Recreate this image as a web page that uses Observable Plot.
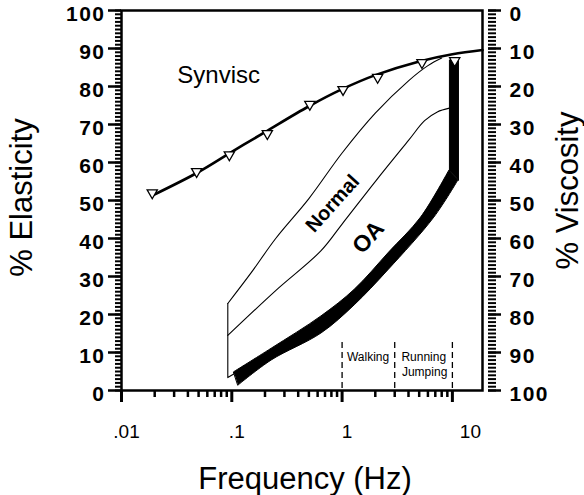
<!DOCTYPE html>
<html>
<head>
<meta charset="utf-8">
<script src="https://cdn.jsdelivr.net/npm/d3@7"></script>
<script src="https://cdn.jsdelivr.net/npm/@observablehq/plot@0.6"></script>
<style>
  html, body { margin: 0; padding: 0; background: white; }
  g[aria-label="y-axis tick label"] text { letter-spacing: 1.5px; }
</style>
</head>
<body>
<div id="chart"></div>
<script>
// Synvisc measured points (frequency Hz, % elasticity)
const synviscFreq = [0.019, 0.048, 0.095, 0.21, 0.51, 1.02, 2.1, 5.3, 10.5];
const synviscElasticity = [52, 57.6, 62, 67.6, 75.3, 79.2, 82.4, 86.3, 86.8];
// Synvisc fitted curve
const synviscFitFreq = [0.019, 0.05, 0.1, 0.2, 0.5, 1, 2, 5, 10, 18.75];
const synviscFitElasticity = [51.3, 57.5, 62.8, 68, 74.8, 79.3, 83, 86.6, 88.5, 89.6];
// Normal synovial fluid: upper boundary
const normalUpperFreq = [0.092, 0.15, 0.25, 0.5, 1, 2, 4, 6, 8];
const normalUpperElasticity = [22.9, 31, 40, 50.5, 62.5, 73, 81.5, 85.5, 87.5];
// Normal / OA dividing line
const normalLowerFreq = [0.092, 0.25, 0.645, 1, 2.04, 4, 5.6, 7.3, 9.4];
const normalLowerElasticity = [14.5, 26.3, 36.8, 43.8, 55.3, 65.8, 71, 73.3, 74.3];
// Low-frequency edge of the region
const normalBaseFreq = [0.092, 0.092, 0.108];
const normalBaseElasticity = [22.9, 3.4, 4.6];
// OA thick boundary: inner (upper-left) and outer (lower-right) edges of the curved part
const oaInnerFreq = [0.105, 0.23, 0.65, 1.3, 2.67, 5.2, 9.4];
const oaInnerElasticity = [4.8, 11, 19.5, 26.5, 36.3, 45.5, 57.9];
const oaOuterFreq = [0.115, 0.23, 0.65, 1.3, 2.62, 6.86, 11.35];
const oaOuterElasticity = [1.3, 7.9, 15, 22.4, 31.6, 45.5, 55.3];
// OA thick boundary: vertical part at high frequency
const oaWallFreq = [9.4, 9.4, 11.35, 11.35];
const oaWallElasticity = [57.9, 87, 87, 55.3];
// Activity ranges
const activityBounds = [1, 3, 10];
const activityLabels = ["Walking", "Running", "Jumping"];
const activityLabelFreq = [1.72, 5.5, 5.6];
const activityLabelElasticity = [8.7, 8.7, 4.7];
// Axis ticks
const xTicks = [0.01, 0.1, 1, 10];
const xTickLabels = [".01", ".1", "1", "10"];
const xMinorTicks = [2,3,4,5,6,7,8,9].flatMap(m => [0.01, 0.1, 1].map(d => m * d));
const yTicks = d3.range(0, 101, 10);
const yMinorTicks = d3.range(0, 101, 1);

const pts = (xs, ys) => xs.map((x, i) => ({x, y: ys[i]}));
const synvisc = pts(synviscFreq, synviscElasticity);
const synviscFit = pts(synviscFitFreq, synviscFitElasticity);
const normalUpper = pts(normalUpperFreq, normalUpperElasticity);
const normalLower = pts(normalLowerFreq, normalLowerElasticity);
const normalBase = pts(normalBaseFreq, normalBaseElasticity);
const oaBand = oaInnerFreq.map((f, i) => ({
  x1: oaOuterFreq[i], y1: oaOuterElasticity[i], x2: f, y2: oaInnerElasticity[i]
}));
const oaWall = pts(oaWallFreq, oaWallElasticity);
const activity = activityLabels.map((t, i) => ({t, x: activityLabelFreq[i], y: activityLabelElasticity[i]}));
const xLabel = d => xTickLabels[xTicks.indexOf(d)];

const downTriangle = {
  draw(ctx, size) {
    const s = Math.sqrt(size * 4 / Math.sqrt(3));
    const h = s * Math.sqrt(3) / 2;
    ctx.moveTo(-s / 2, -h / 3);
    ctx.lineTo(s / 2, -h / 3);
    ctx.lineTo(0, 2 * h / 3);
    ctx.closePath();
  }
};

const chart = Plot.plot({
  width: 584,
  height: 495,
  marginLeft: 121,
  marginRight: 102,
  marginTop: 10,
  marginBottom: 105,
  x: {type: "log", domain: [0.01, 18.75]},
  y: {domain: [0, 100]},
  style: {fontFamily: "'Liberation Sans', Arial, sans-serif", color: "black", background: "white", overflow: "visible"},
  marks: [
    // x axis
    Plot.axisX(xMinorTicks, {tickSize: 7, strokeWidth: 2.5, tickFormat: () => "", label: null}),
    Plot.axisX(xTicks, {tickSize: 12, strokeWidth: 3, tickFormat: () => "", label: null}),
    Plot.axisX(xTicks.slice(0, 3), {tickSize: 0, tickPadding: 34, fontSize: 19, dx: 5,
      tickFormat: xLabel, label: null}),
    Plot.axisX(xTicks.slice(3), {tickSize: 0, tickPadding: 34, fontSize: 19, dx: 18,
      tickFormat: xLabel, label: null}),
    // left axis (elasticity)
    Plot.axisY(yMinorTicks, {anchor: "left", tickSize: 6, strokeWidth: 2, tickFormat: () => "", label: null}),
    Plot.axisY(yTicks, {anchor: "left", tickSize: 13, strokeWidth: 2.5, tickFormat: () => "", label: null}),
    Plot.axisY(yTicks, {anchor: "left", tickSize: 0, tickPadding: 16, dy: 4, fontSize: 21,
      fontWeight: "bold", label: null}),
    // right axis (viscosity = 100 - elasticity)
    Plot.axisY(yMinorTicks, {anchor: "right", dx: 5, tickSize: 8, strokeWidth: 2, tickFormat: () => "", label: null}),
    Plot.axisY(yTicks, {anchor: "right", dx: 5, tickSize: 13, strokeWidth: 2.5, tickFormat: () => "", label: null}),
    Plot.axisY(yTicks, {anchor: "right", dx: 5, dy: 4, tickSize: 0, tickPadding: 22, fontSize: 21,
      fontWeight: "bold", tickFormat: d => String(100 - d), label: null}),
    Plot.frame({strokeWidth: 2.5}),
    // activity ranges
    Plot.ruleX(activityBounds, {y1: 0.5, y2: 13.2, strokeWidth: 1.3, strokeDasharray: "6,4"}),
    Plot.text(activity, {x: "x", y: "y", text: "t", fontSize: 12}),
    // normal / OA region
    Plot.line(normalUpper, {x: "x", y: "y", curve: "catmull-rom", strokeWidth: 1.1}),
    Plot.line(normalLower, {x: "x", y: "y", curve: "catmull-rom", strokeWidth: 1.1}),
    Plot.line(normalBase, {x: "x", y: "y", strokeWidth: 1.1}),
    Plot.area(oaBand, {x1: "x1", y1: "y1", x2: "x2", y2: "y2", curve: "catmull-rom",
      fill: "black", stroke: "black", strokeWidth: 1}),
    Plot.line(oaWall, {x: "x", y: "y", fill: "black", stroke: "black", strokeWidth: 1}),
    // Synvisc
    Plot.line(synviscFit, {x: "x", y: "y", curve: "catmull-rom", strokeWidth: 2.6}),
    Plot.dot(synvisc, {x: "x", y: "y", symbol: downTriangle, r: 3.8, fill: "white", stroke: "black", strokeWidth: 1.3}),
    // labels
    Plot.text(["Synvisc"], {x: 0.076, y: 82.9, fontSize: 24}),
    Plot.text(["Normal"], {x: 0.82, y: 49.2, rotate: -48, fontSize: 20, fontWeight: "bold"}),
    Plot.text(["OA"], {x: 1.73, y: 40.3, rotate: -48, fontSize: 23, fontWeight: "bold"}),
    // axis titles
    Plot.text(["Frequency (Hz)"], {frameAnchor: "bottom", textAnchor: "middle", dx: 3, dy: 98, fontSize: 31}),
    Plot.text(["% Elasticity"], {frameAnchor: "left", textAnchor: "middle", lineAnchor: "middle",
      dx: -99, dy: -3, rotate: -90, fontSize: 31}),
    Plot.text(["% Viscosity"], {frameAnchor: "right", textAnchor: "middle", lineAnchor: "middle",
      dx: 86, dy: -10, rotate: -90, fontSize: 31})
  ]
});
document.getElementById("chart").appendChild(chart);
</script>
</body>
</html>
